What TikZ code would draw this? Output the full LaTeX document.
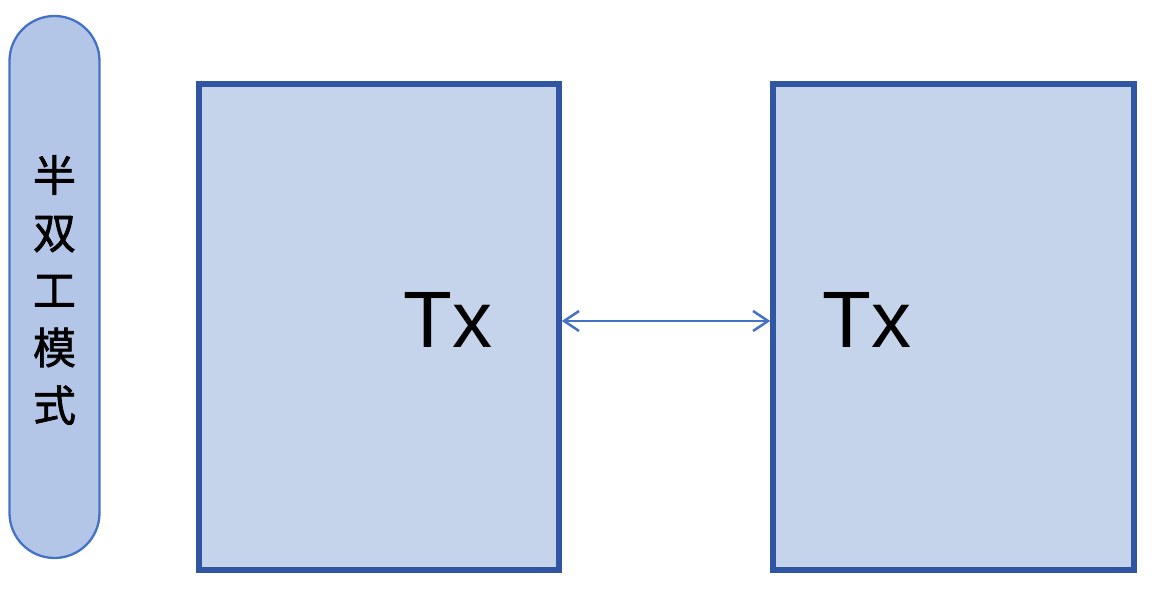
\documentclass[tikz,border=0pt]{standalone}
\usepackage{fontspec}
\setmainfont{Liberation Sans}
\newfontfamily\cjk[FakeBold=1.5]{Noto Sans CJK SC}
\usetikzlibrary{arrows.meta}
\begin{document}
\begin{tikzpicture}[x=1pt,y=-1pt,
  bigbox/.style={draw=boxline,line width=5.5pt,fill=boxfill,inner sep=0pt},
  pill/.style={draw=pillline,line width=2.3pt,fill=pillfill,rounded corners=45pt,inner sep=0pt},
  tip/.style={Straight Barb[length=15pt,width=20pt,line width=2.5pt]},
  link/.style={draw=pillline,line width=2.5pt,{Straight Barb[length=15pt,width=20pt,line width=2.5pt]}-{Straight Barb[length=15pt,width=20pt,line width=2.5pt]}}]
\definecolor{boxline}{HTML}{2F55A3}
\definecolor{boxfill}{HTML}{C5D3EB}
\definecolor{pillline}{HTML}{4472C4}
\definecolor{pillfill}{HTML}{B4C6E7}
\useasboundingbox (0,0) rectangle (1172,609);
\node[pill,minimum width=90pt,minimum height=542pt] (pillc) at (54.5,287) {};
\node[inner sep=0pt,align=center,font=\cjk\fontsize{43}{57.5}\selectfont] (mode) at (54.5,290) {半\\双\\工\\模\\式};
\node[bigbox,minimum width=360pt,minimum height=486pt] (left) at (379,327) {};
\node[bigbox,minimum width=361pt,minimum height=486pt] (right) at (953.5,327) {};
\node[font=\fontsize{80}{80}\selectfont,inner sep=0pt] (txl) at (448,320) {Tx};
\node[font=\fontsize{80}{80}\selectfont,inner sep=0pt] (txr) at (867,320) {Tx};
\draw[link] ([yshift=6pt]left.east) -- ([yshift=6pt]right.west);
\end{tikzpicture}
\end{document}
